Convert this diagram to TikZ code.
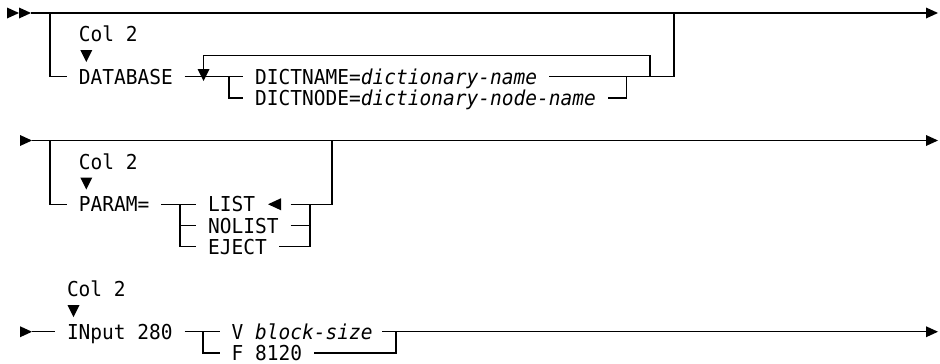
\documentclass[tikz,border=0pt]{standalone}
\usepackage{fontspec}
\setmonofont[FakeStretch=0.95]{DejaVu Sans Mono}
\newcommand\rrfont{\fontsize{15.4pt}{18pt}\selectfont\ttfamily}
\begin{document}
\begin{tikzpicture}[x=0.75pt,y=-0.75pt,
  rail/.style={draw=black,line width=1.1pt,line cap=butt,line join=miter},
  txt/.style={anchor=base west,inner sep=0pt,outer sep=0pt,font=\rrfont},
  rtri/.pic={\fill[black] (0,-5.5) -- (12,0) -- (0,5.5) -- cycle;},
  dtri/.pic={\fill[black] (-6,-6) -- (6,-6) -- (0,6) -- cycle;},
  ltri/.pic={\fill[black] (6,-6) -- (6,6) -- (-7,0) -- cycle;}]
\fill[white] (0,0) rectangle (940,364);
\useasboundingbox (0,0) rectangle (940,364);

% ================= row 1 : DATABASE =================
\node[txt] (colA) at (78.8,41.75) {Col 2};
\node[txt] (db) at (78.8,84.25) {DATABASE};
\node[txt] (dname) at (255.2,84.25) {DICTNAME=\textit{dictionary-name}};
\node[txt] (dnode) at (255.2,105.5) {DICTNODE=\textit{dictionary-node-name}};

\coordinate (m1s) at (31,13);
\coordinate (m1e) at (926,13);
\coordinate (l1t) at (50,13);
\coordinate (l1b) at (50,76.75);
\coordinate (l1e) at (67,76.75);
\coordinate (d1a) at (184.6,76.75);
\coordinate (d1b) at (243.4,76.75);
\coordinate (rpT) at (203.5,69);
\coordinate (rpTop) at (203.5,55.5);
\coordinate (rpR) at (650,55.5);
\coordinate (rpRb) at (650,76.75);
\coordinate (br1t) at (229,76.75);
\coordinate (br1b) at (229,98);
\coordinate (br1e) at (243.4,98);
\coordinate (dnL) at (549.2,76.75);
\coordinate (o1b) at (674,76.75);
\coordinate (o1t) at (674,13);
\coordinate (ddL) at (608,98);
\coordinate (ddR) at (626.5,98);
\coordinate (ddU) at (626.5,76.75);

\draw[rail] (m1s) -- (m1e);
\draw[rail] (l1t) -- (l1b) -- (l1e);
\draw[rail] (d1a) -- (d1b);
\draw[rail] (rpT) -- (rpTop) -- (rpR) -- (rpRb);
\draw[rail] (br1t) -- (br1b) -- (br1e);
\draw[rail] (dnL) -- (o1b) -- (o1t);
\draw[rail] (ddL) -- (ddR) -- (ddU);

\pic at (7,13) {rtri};
\pic at (19,13) {rtri};
\pic at (m1e) {rtri};
\pic at (86.3,56) {dtri};
\pic at (203.5,75) {dtri};

% ================= row 2 : PARAM =================
\node[txt] (colB) at (78.8,169.25) {Col 2};
\node[txt] (param) at (78.8,211.75) {PARAM=};
\node[txt] (list) at (208.2,211.75) {LIST};
\node[txt] (nolist) at (208.2,233) {NOLIST};
\node[txt] (eject) at (208.2,254.25) {EJECT};

\coordinate (m2s) at (32,140.5);
\coordinate (m2e) at (926,140.5);
\coordinate (l2t) at (50,140.5);
\coordinate (l2b) at (50,204.25);
\coordinate (l2e) at (67,204.25);
\coordinate (p2a) at (161.1,204.25);
\coordinate (p2b) at (196.4,204.25);
\coordinate (p2v) at (180,204.25);
\coordinate (p2vb) at (180,246.75);
\coordinate (p2n) at (196.4,225.5);
\coordinate (p2nv) at (180,225.5);
\coordinate (p2e) at (196.4,246.75);
\coordinate (q2a) at (290.5,204.25);
\coordinate (q2v) at (310,204.25);
\coordinate (q2vb) at (310,246.75);
\coordinate (q2r) at (332,204.25);
\coordinate (q2rt) at (332,140.5);
\coordinate (q2n) at (290.5,225.5);
\coordinate (q2nv) at (310,225.5);
\coordinate (q2e) at (278.7,246.75);

\draw[rail] (m2s) -- (m2e);
\draw[rail] (l2t) -- (l2b) -- (l2e);
\draw[rail] (p2a) -- (p2b);
\draw[rail] (p2v) -- (p2vb) -- (p2e);
\draw[rail] (p2nv) -- (p2n);
\draw[rail] (q2a) -- (q2r) -- (q2rt);
\draw[rail] (q2v) -- (q2vb) -- (q2e);
\draw[rail] (q2n) -- (q2nv);

\pic at (20,140.5) {rtri};
\pic at (m2e) {rtri};
\pic at (86.3,183.5) {dtri};
\pic at (275,204.25) {ltri};

% ================= row 3 : INput =================
\node[txt] (colC) at (67,296.75) {Col 2};
\node[txt] (inp) at (67,339.25) {INput 280};
\node[txt] (vb) at (231.7,339.25) {V \textit{block-size}};
\node[txt] (f8) at (231.7,360.5) {F 8120};

\coordinate (m3s) at (32,331.75);
\coordinate (m3a) at (55.3,331.75);
\coordinate (i3a) at (184.6,331.75);
\coordinate (i3b) at (219.9,331.75);
\coordinate (i3v) at (203,331.75);
\coordinate (i3vb) at (203,353);
\coordinate (i3e) at (219.9,353);
\coordinate (v3a) at (382,331.75);
\coordinate (m3e) at (926,331.75);
\coordinate (v3v) at (396,331.75);
\coordinate (v3vb) at (396,353);
\coordinate (f3a) at (314,353);

\draw[rail] (m3s) -- (m3a);
\draw[rail] (i3a) -- (i3b);
\draw[rail] (i3v) -- (i3vb) -- (i3e);
\draw[rail] (v3a) -- (m3e);
\draw[rail] (f3a) -- (v3vb) -- (v3v);

\pic at (20,331.75) {rtri};
\pic at (m3e) {rtri};
\pic at (73.5,311) {dtri};
\end{tikzpicture}
\end{document}
